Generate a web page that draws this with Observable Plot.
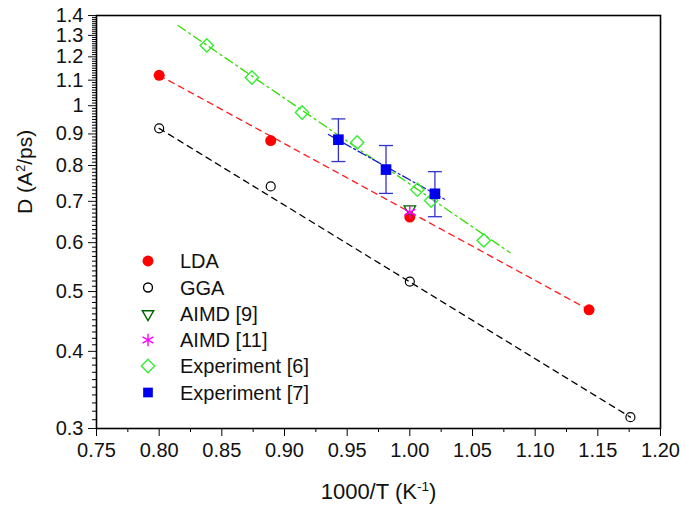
<!DOCTYPE html>
<html>
<head>
<meta charset="utf-8">
<script src="https://cdn.jsdelivr.net/npm/d3@7"></script>
<script src="https://cdn.jsdelivr.net/npm/@observablehq/plot@0.6"></script>
<style>
  body { margin: 0; background: #fff; }
  svg { font-family: "Liberation Sans", Arial, sans-serif; }
</style>
</head>
<body>
<div id="chart"></div>
<script>
// ---- data ----
const ldaX = [0.800, 0.889, 1.000, 1.143];
const ldaY = [1.12, 0.878, 0.66, 0.467];
const ggaX = [0.800, 0.889, 1.000, 1.176];
const ggaY = [0.919, 0.740, 0.519, 0.313];
const aimd9X = [1.000];
const aimd9Y = [0.680];
const aimd11X = [1.000];
const aimd11Y = [0.672];
const exp6X = [0.838, 0.874, 0.914, 0.958, 1.006, 1.017, 1.059];
const exp6Y = [1.252, 1.111, 0.975, 0.872, 0.731, 0.702, 0.605];
const exp7X = [0.943, 0.981, 1.020];
const exp7Y = [0.881, 0.788, 0.720];
const exp7Lo = [0.812, 0.721, 0.661];
const exp7Hi = [0.952, 0.862, 0.782];
// fit lines (end points)
const ldaFitX = [0.800, 1.143];
const ldaFitY = [1.12, 0.467];
const ggaFitX = [0.800, 1.176];
const ggaFitY = [0.919, 0.313];
const exp6FitX = [0.815, 1.080];
const exp6FitY = [1.349, 0.578];
const exp7FitX = [0.935, 1.0285];
const exp7FitY = [0.898, 0.704];
// ticks
const xMajor = [0.75, 0.80, 0.85, 0.90, 0.95, 1.00, 1.05, 1.10, 1.15, 1.20];
const xMinor = [0.775, 0.825, 0.875, 0.925, 0.975, 1.025, 1.075, 1.125, 1.175];
const yMajor = [0.3, 0.4, 0.5, 0.6, 0.7, 0.8, 0.9, 1.0, 1.1, 1.2, 1.3, 1.4];
const yMinor = d3.range(30, 141).filter(v => v % 10 !== 0).map(v => v / 100);
const legendLabels = ["LDA", "GGA", "AIMD [9]", "AIMD [11]", "Experiment [6]", "Experiment [7]"];
const xTitleParts = [["1000/T (K", false], ["-1", true], [")", false]];
const yTitleParts = [["D (A", false], ["2", true], ["/ps)", false]];

const zip = (xs, ys) => xs.map((x, i) => ({x, y: ys[i]}));
const lda = zip(ldaX, ldaY), gga = zip(ggaX, ggaY);
const aimd9 = zip(aimd9X, aimd9Y), aimd11 = zip(aimd11X, aimd11Y);
const exp6 = zip(exp6X, exp6Y);
const exp7 = exp7X.map((x, i) => ({x, y: exp7Y[i], lo: exp7Lo[i], hi: exp7Hi[i]}));

const capSymbol = { draw(ctx) { ctx.moveTo(-7, 0); ctx.lineTo(7, 0); } };
const asteriskSymbol = d3.symbolAsterisk;
const plain = parts => parts.map(p => p[0]).join("");

const FS = 20;
const plot = Plot.plot({
  width: 685,
  height: 512,
  marginLeft: 96,
  marginRight: 25,
  marginTop: 15,
  marginBottom: 84,
  style: {fontFamily: "Liberation Sans, Arial, sans-serif", fontSize: FS + "px", background: "#fff"},
  x: {domain: [0.75, 1.20]},
  y: {type: "log", domain: [0.3, 1.4]},
  marks: [
    Plot.axisX({ticks: xMajor, tickSize: 8, tickPadding: 6, tickFormat: d3.format(".2f"), fontSize: FS, label: null, stroke: "#000", color: "#111"}),
    Plot.axisX({ticks: xMinor, tickSize: 4, tickFormat: () => "", label: null}),
    Plot.axisY({ticks: yMajor, tickSize: 8, tickPadding: 5, tickFormat: d => String(+d.toFixed(1)), fontSize: FS, label: null, color: "#111"}),
    Plot.axisY({ticks: yMinor, tickSize: 4, tickFormat: () => "", label: null}),
    Plot.frame({stroke: "#000", strokeWidth: 1.6}),
    // fit lines
    Plot.line(zip(ggaFitX, ggaFitY), {x: "x", y: "y", stroke: "#000", strokeWidth: 1.3, strokeDasharray: "6,5"}),
    Plot.line(zip(ldaFitX, ldaFitY), {x: "x", y: "y", stroke: "#ff1a1a", strokeWidth: 1.3, strokeDasharray: "6,5"}),
    Plot.line(zip(exp6FitX, exp6FitY), {x: "x", y: "y", stroke: "#33dd00", strokeWidth: 1.3, strokeDasharray: "9,4,2,4"}),
    Plot.line(zip(exp7FitX, exp7FitY), {x: "x", y: "y", stroke: "#1a1acc", strokeWidth: 1.3, strokeDasharray: "9,3,2,3"}),
    // error bars
    Plot.ruleX(exp7, {x: "x", y1: "lo", y2: "hi", stroke: "#3333cc", strokeWidth: 1.3}),
    Plot.dot(exp7, {x: "x", y: "lo", symbol: capSymbol, stroke: "#3333cc", strokeWidth: 1.3, r: 3}),
    Plot.dot(exp7, {x: "x", y: "hi", symbol: capSymbol, stroke: "#3333cc", strokeWidth: 1.3, r: 3}),
    // points
    Plot.dot(gga, {x: "x", y: "y", symbol: "circle", r: 4.5, stroke: "#000", strokeWidth: 1.2, fill: "none"}),
    Plot.dot(lda, {x: "x", y: "y", symbol: "circle", r: 5.5, fill: "#ff0000", stroke: "none"}),
    Plot.dot(exp6, {x: "x", y: "y", symbol: "diamond2", r: 6, stroke: "#33ee33", strokeWidth: 1.4, fill: "none"}),
    Plot.dot(exp7, {x: "x", y: "y", symbol: "square", r: 6, fill: "#0000ee", stroke: "none"}),
    Plot.dot(aimd9, {x: "x", y: "y", symbol: "triangle2", rotate: 180, r: 5.5, stroke: "#006600", strokeWidth: 1.3, fill: "none"}),
    Plot.dot(aimd11, {x: "x", y: "y", symbol: asteriskSymbol, r: 6, stroke: "#ff00ff", strokeWidth: 1.4, fill: "none"}),
    // axis titles
    Plot.text([plain(xTitleParts)], {frameAnchor: "bottom", lineAnchor: "top", dy: 55, fontSize: 22, fill: "#111"}),
    Plot.text([plain(yTitleParts)], {frameAnchor: "left", rotate: -90, dx: -71, dy: -8, fontSize: 21, fill: "#111"})
  ]
});

const svg = d3.select(plot);
// rebuild titles with real superscripts
function superscript(parts) {
  const t = svg.selectAll("text").filter(function () { return this.textContent === plain(parts); });
  t.each(function () {
    const el = d3.select(this);
    el.text(null);
    parts.forEach(([s, sup]) => {
      const ts = el.append("tspan").text(s);
      if (sup) ts.attr("font-size", "0.62em").attr("baseline-shift", "55%");
    });
  });
}
superscript(xTitleParts);
superscript(yTitleParts);

// legend
const legendItems = [
  {type: d3.symbolCircle, size: Math.PI * 30, fill: "#ff0000", stroke: "none"},
  {type: d3.symbolCircle, size: Math.PI * 20, fill: "none", stroke: "#000"},
  {type: d3.symbolTriangle2, size: Math.PI * 30, fill: "none", stroke: "#006600", rotate: 180},
  {type: d3.symbolAsterisk, size: Math.PI * 36, fill: "none", stroke: "#ff00ff"},
  {type: d3.symbolDiamond2, size: Math.PI * 36, fill: "none", stroke: "#33ee33"},
  {type: d3.symbolSquare, size: Math.PI * 30, fill: "#0000ee", stroke: "none"}
];
const rowY = [261, 287.5, 314, 340, 366, 392.5];
const lg = svg.append("g").attr("text-anchor", "start");
legendItems.forEach((it, i) => {
  lg.append("path")
    .attr("d", d3.symbol(it.type, it.size)())
    .attr("transform", `translate(148,${rowY[i]})` + (it.rotate ? ` rotate(${it.rotate})` : ""))
    .attr("fill", it.fill).attr("stroke", it.stroke).attr("stroke-width", 1.4);
  lg.append("text")
    .attr("x", 180).attr("y", rowY[i]).attr("dy", "0.36em")
    .attr("text-anchor", "start")
    .attr("font-size", FS).attr("fill", "#111")
    .text(legendLabels[i]);
});

document.getElementById("chart").appendChild(plot);
</script>
</body>
</html>
